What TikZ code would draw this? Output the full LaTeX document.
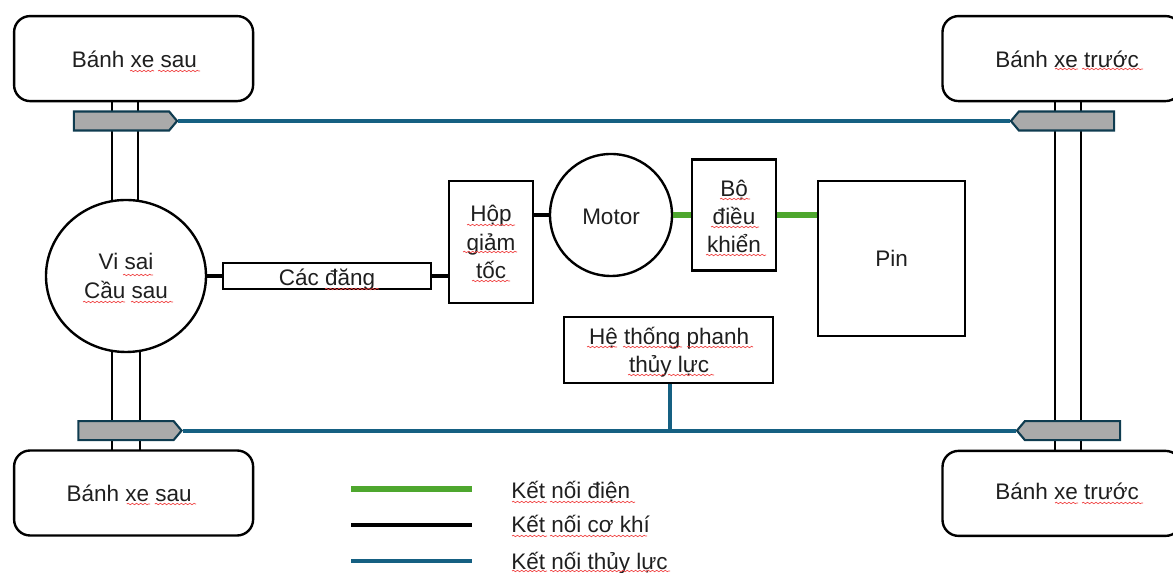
\documentclass[tikz,border=0pt]{standalone}
\usepackage{fontspec}
\setmainfont{Liberation Sans}
\definecolor{ElecGreen}{RGB}{78, 167, 46}
\definecolor{HydroBlue}{RGB}{21, 96, 130}
\definecolor{CaliperEdge}{RGB}{15, 60, 80}
\definecolor{CaliperGray}{RGB}{170, 170, 170}
\definecolor{SpellRed}{RGB}{240, 70, 70}
\usetikzlibrary{shapes.symbols, shapes.geometric, positioning, calc, decorations.pathmorphing}

\begin{document}
\begin{tikzpicture}[
        base/.style={draw=black, line width=1.7pt, fill=white, align=center, inner sep=0pt, text=black!88, font=\fontsize{16}{20}\selectfont},
        wheel/.style={base, rounded corners=0.4cm, minimum width=5.975cm, minimum height=2.125cm},
        block/.style={base, minimum width=2.1cm},
        round/.style={base, circle},
        axle/.style={base, minimum width=0.66cm},
        caliper/.style={signal, signal from=nowhere, signal pointer angle=100, draw=CaliperEdge, line width=1.5pt, fill=CaliperGray, inner sep=0pt, minimum width=2.58cm, minimum height=0.475cm},
        txt/.style={text=black!88, align=center, inner sep=0pt, font=\fontsize{16}{20}\selectfont},
        mech/.style={draw=black, line width=3pt},
        elec/.style={draw=ElecGreen, line width=3.6pt},
        hydro/.style={draw=HydroBlue, line width=2.8pt},
        spell/.style={draw=SpellRed, line width=0.5pt, decorate, decoration={snake, amplitude=0.5pt, segment length=3pt}}
    ]

    \clip (0, 0) rectangle (29.325, 14.325);

    % --- AXLES ---
    \node[axle, minimum height=2.6cm] (axleTL) at (3.125, 10.5) {};
    \node[axle, minimum width=0.7cm, minimum height=2.6cm] (axleBL) at (3.15, 4.35) {};
    \node[axle, minimum height=8.775cm] (axleR) at (26.7, 7.41) {};

    % --- WHEELS ---
    \node[wheel] (wheelTL) at (3.34, 12.86) {};
    \node[wheel] (wheelBL) at (3.34, 2.0) {};
    \node[wheel] (wheelTR) at (26.55, 12.86) {};
    \node[wheel] (wheelBR) at (26.55, 1.99) {};
    \node[txt] (txtTL) at (3.36, 12.85) {Bánh xe sau};
    \node[txt] (txtBL) at (3.23, 2.0) {Bánh xe sau};
    \node[txt] (txtTR) at (26.68, 12.85) {Bánh xe trước};
    \node[txt] (txtBR) at (26.68, 2.05) {Bánh xe trước};

    % --- DRIVE LINE ---
    \node[base, ellipse, minimum width=4cm, minimum height=3.8cm] (diff) at (3.15, 7.425) {Vi sai\\Cầu sau};
    \node[block, minimum width=5.2cm, minimum height=0.65cm] (cardan) at (8.175, 7.425) {};
    \node[txt] (cardanTxt) at (8.175, 7.325) {Các đăng};
    \node[block, minimum height=3.05cm] (gearbox) at (12.275, 8.275) {Hộp\\giảm\\tốc};
    \node[round, minimum size=3.05cm] (motor) at (15.275, 8.95) {};
    \node[txt] (motorTxt) at (15.275, 8.9) {Motor};
    \node[block, minimum height=2.775cm] (controller) at (18.35, 8.95) {};
    \node[txt] (controllerTxt) at (18.35, 8.92) {Bộ\\điều\\khiển};
    \node[block, minimum width=3.675cm, minimum height=3.875cm] (battery) at (22.2875, 7.8625) {Pin};
    \node[block, minimum width=5.225cm, minimum height=1.65cm] (brake) at (16.7125, 5.575) {};
    \node[txt] (brakeTxt) at (16.73, 5.515) {Hệ thống phanh\\thủy lực};

    \draw[mech] (diff.east) -- (cardan.west);
    \draw[mech] (cardan.east) -- (cardan.east -| gearbox.west);
    \draw[mech] (gearbox.east |- motor.west) -- (motor.west);
    \draw[elec] (motor.east) -- (controller.west);
    \draw[elec] (controller.east) -- (controller.east -| battery.west);

    % --- BRAKES ---
    \node[caliper, signal to=east] (caliperTL) at (3.0375, 11.3) {};
    \node[caliper, signal to=east] (caliperBL) at (3.15, 3.56) {};
    \node[caliper, signal to=west] (caliperTR) at (26.6625, 11.3) {};
    \node[caliper, signal to=west] (caliperBR) at (26.8125, 3.56) {};
    \draw[hydro] (caliperTL.east) -- (caliperTR.west);
    \draw[hydro] (caliperBL.east) -- (caliperBR.west);
    \draw[hydro] ([xshift=0.04cm]brake.south) -- ([xshift=0.04cm]brake.south |- caliperBL.east);

    % --- LEGEND ---
    \foreach \name/\yy/\base/\kind/\word in {legElec/2.1/1.85/elec/Kết nối điện, legMech/1.2/1.0/mech/Kết nối cơ khí, legHydro/0.3/0.075/hydro/Kết nối thủy lực} {
        \coordinate (\name A) at (8.775, \yy);
        \coordinate (\name B) at (11.8, \yy);
        \draw[\kind] (\name A) -- (\name B);
        \node[txt, anchor=base west] (\name) at (12.775, \base) {\word};
    }

    % --- SPELL CHECK MARKS ---
    \foreach \xa/\xb/\yy in {3.25/3.85/12.55, 3.95/5/12.55, 3.17/3.75/1.725, 3.87/4.9/1.725,
        26.375/26.95/12.6, 27.05/28.58/12.6, 26.375/26.95/1.75, 27.05/28.58/1.75,
        3.075/3.825/7.45, 2.075/3.125/6.775, 3.275/4.325/6.775, 8.125/9.475/7.1,
        11.675/12.875/8.7, 11.575/12.925/8.025, 11.8/12.75/7.3,
        18/18.75/9.35, 17.775/18.975/8.65, 17.65/19.15/7.95,
        14.675/15.425/5.65, 15.575/17.05/5.65, 17.175/18.825/5.65, 15.7/16.625/4.95, 16.7/17.85/4.95,
        12.8/13.675/1.775, 13.75/15.875/1.775, 12.8/13.675/0.925, 13.75/16.175/0.925, 12.8/13.675/0.05, 13.75/16.75/0.05} {
        \draw[spell] (\xa, \yy) -- (\xb, \yy);
    }
\end{tikzpicture}
\end{document}
